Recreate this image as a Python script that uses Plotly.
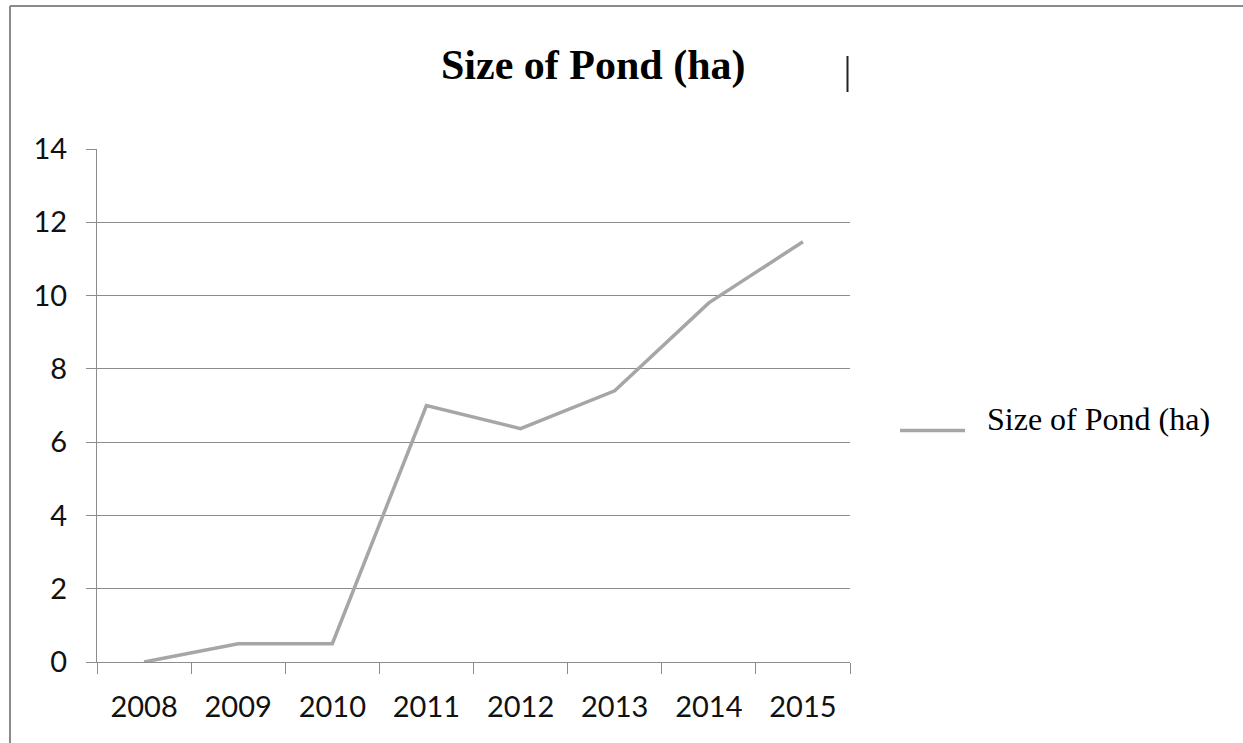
import plotly.graph_objects as go

# Pond area by year
years = ["2008", "2009", "2010", "2011", "2012", "2013", "2014", "2015"]
pond_size_ha = [0.0, 0.5, 0.5, 7.0, 6.37, 7.4, 9.8, 11.47]
series_name = "Size of Pond (ha)"
y_ticks = [0, 2, 4, 6, 8, 10, 12, 14]

W, H = 1243, 743
L, R, T, B = 97, 850, 149, 662  # plot area edges in pixels


def xp(px):
    return (px - L) / (R - L)


def yp(py):
    return (B - py) / (B - T)


GRID = "#8c8c8c"
LINE = "#a6a6a6"
TICKFONT = dict(family="Lato, 'Open Sans', sans-serif", size=29, color="#111111")

fig = go.Figure()
fig.add_trace(go.Scatter(
    x=years, y=pond_size_ha, mode="lines", name=series_name,
    line=dict(color=LINE, width=3.5), showlegend=False,
))

fig.update_layout(
    width=W, height=H,
    margin=dict(l=L, r=W - R, t=T, b=H - B, pad=0),
    paper_bgcolor="white", plot_bgcolor="white",
    xaxis=dict(
        type="category", range=[-0.5, 7.5], tickson="boundaries",
        showgrid=False, showline=True, linecolor=GRID, linewidth=1,
        ticks="outside", ticklen=11, tickcolor=GRID, tickwidth=1,
        tickfont=TICKFONT, ticklabelstandoff=19, zeroline=False,
    ),
    yaxis=dict(
        range=[0, 14], tickvals=y_ticks, showgrid=True, gridcolor=GRID,
        gridwidth=1, showline=True, linecolor=GRID, linewidth=1,
        ticks="outside", ticklen=10, tickcolor=GRID, tickwidth=1,
        tickfont=TICKFONT, ticklabelstandoff=13, zeroline=False,
    ),
)

shapes = [
    # outer frame (left and top edges)
    dict(type="line", xref="paper", yref="paper",
         x0=xp(10), x1=xp(W + 5), y0=yp(6), y1=yp(6),
         line=dict(color="#8a8a8a", width=2)),
    dict(type="line", xref="paper", yref="paper",
         x0=xp(10), x1=xp(10), y0=yp(6), y1=yp(H + 5),
         line=dict(color="#8a8a8a", width=2)),
    # small stroke to the right of the title
    dict(type="line", xref="paper", yref="paper",
         x0=xp(847.5), x1=xp(847.5), y0=yp(56), y1=yp(92),
         line=dict(color="#222222", width=2)),
    # legend line sample
    dict(type="line", xref="paper", yref="paper",
         x0=xp(900), x1=xp(965), y0=yp(430.5), y1=yp(430.5),
         line=dict(color=LINE, width=3.5)),
]
fig.update_layout(shapes=shapes)

fig.add_annotation(
    text="<b>Size of Pond (ha)</b>", xref="paper", yref="paper",
    x=xp(593), y=yp(65), xanchor="center", yanchor="middle",
    showarrow=False,
    font=dict(family="'Liberation Serif', 'Times New Roman', serif", size=42, color="black"),
)
fig.add_annotation(
    text=series_name, xref="paper", yref="paper",
    x=xp(985), y=yp(419), xanchor="left", yanchor="middle",
    showarrow=False,
    font=dict(family="'Liberation Serif', 'Times New Roman', serif", size=32, color="black"),
)

fig.write_html("out.html")
